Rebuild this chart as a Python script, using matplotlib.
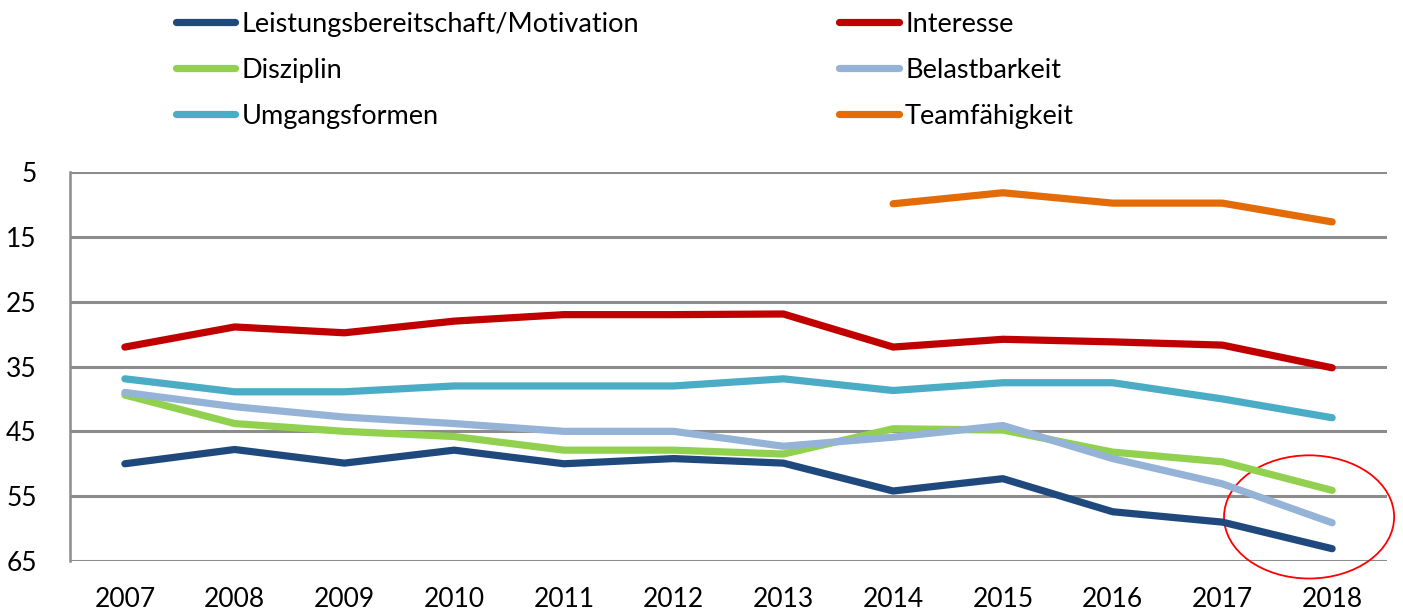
import matplotlib.pyplot as plt
from matplotlib.patches import Ellipse
import numpy as np

plt.rcParams['font.family'] = ['Lato', 'DejaVu Sans']

years = ['2007', '2008', '2009', '2010', '2011', '2012',
         '2013', '2014', '2015', '2016', '2017', '2018']

leistung = [50.0, 47.8, 49.9, 47.9, 50.0, 49.2, 49.9, 54.2, 52.3, 57.4, 59.0, 63.1]
interesse = [32.0, 28.9, 29.8, 28.0, 27.0, 27.0, 26.9, 32.0, 30.8, 31.2, 31.7, 35.2]
disziplin = [39.4, 43.8, 45.0, 45.8, 47.9, 47.9, 48.5, 44.6, 44.8, 48.2, 49.7, 54.1]
belastbarkeit = [39.0, 41.2, 42.8, 43.8, 45.0, 45.0, 47.3, 45.9, 44.1, 49.2, 53.1, 59.1]
umgang = [36.9, 38.9, 38.9, 38.0, 38.0, 38.0, 36.9, 38.7, 37.5, 37.5, 40.0, 42.9]
team = [np.nan] * 7 + [9.9, 8.2, 9.8, 9.8, 12.7]

series = [
    ('Leistungsbereitschaft/Motivation', leistung, '#1F497D'),
    ('Disziplin', disziplin, '#92D050'),
    ('Umgangsformen', umgang, '#4BACC6'),
    ('Interesse', interesse, '#C00000'),
    ('Belastbarkeit', belastbarkeit, '#95B3D7'),
    ('Teamfähigkeit', team, '#E36C09'),
]

fig = plt.figure(figsize=(14.03, 6.11), dpi=100)
ax = fig.add_axes([0.0499, 0.0818, 0.9387, 0.6367])

x = np.arange(len(years))
for name, vals, col in series:
    ax.plot(x, vals, color=col, lw=5.2, label=name,
            solid_capstyle='round', solid_joinstyle='round')

ax.set_ylim(65, 5)
ax.set_yticks(range(5, 66, 10))
ax.set_xlim(-0.5, len(years) - 0.5)
ax.set_xticks(x)
ax.set_xticklabels(years)
ax.yaxis.grid(True, color='#8c8c8c', lw=2.2)
ax.set_axisbelow(True)
for s in ['top', 'right', 'bottom']:
    ax.spines[s].set_visible(False)
ax.spines['left'].set_color('#8c8c8c')
ax.spines['left'].set_linewidth(1.8)
ax.tick_params(axis='both', length=0, labelsize=19)
ax.tick_params(axis='y', pad=24)
ax.tick_params(axis='x', pad=19)

# red circle highlighting the latest drop
ell = Ellipse((10.79, 58.2), 1.55, 19.0, fill=False, edgecolor='#FF0000',
              lw=1.3, clip_on=False)
ax.add_patch(ell)

fig.legend(loc='upper left', bbox_to_anchor=(0.108, 1.021), ncol=2,
           frameon=False, fontsize=19.5, handlelength=2.2, handletextpad=0.22,
           columnspacing=7.4, labelspacing=0.78)

fig.savefig('out.png', dpi=100)
